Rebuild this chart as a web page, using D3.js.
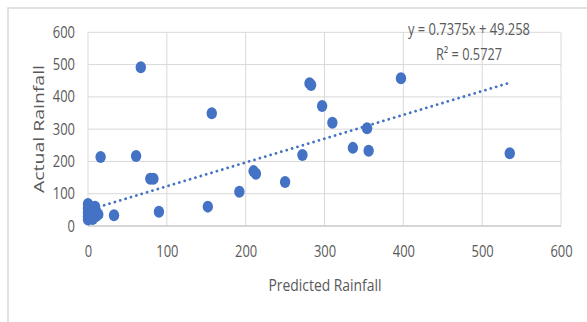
<!DOCTYPE html>
<html><head><meta charset="utf-8">
<script src="https://cdn.jsdelivr.net/npm/d3@7"></script>
<style>body{margin:0;background:#fff;}svg{display:block;}</style>
</head><body>
<script>
// Data
const predicted = [0,0,0,0,0,1,2,3,5,7,9,10,11,13,6,
  16,61,67,79,83,90,33,152,157,192,210,213,250,272,281,283,297,310,336,354,356,397,535];
const actual    = [68,55,42,30,20,48,62,25,38,52,60,30,42,36,22,
  214,217,492,146,146,44,33,60,349,106,170,162,136,220,442,437,372,320,242,303,233,458,225];
const xTicks = [0,100,200,300,400,500,600];
const yTicks = [0,100,200,300,400,500,600];
const slope = 0.7375, intercept = 49.258;
const eqLabel = "y = 0.7375x + 49.258";
const r2Label = "R² = 0.5727";
const xTitle = "Predicted Rainfall";
const yTitle = "Actual Rainfall";

const W = 587, H = 322;
const svg = d3.select("body").append("svg").attr("width", W).attr("height", H);
const txt = "#595959", grid = "#d9d9d9";
const font = "'Liberation Sans Narrow','Open Sans',sans-serif";

// outer chart border
svg.append("path").attr("d", `M8,${H+2} L8,8 L${W+2},8`).attr("fill","none")
  .attr("stroke", grid).attr("stroke-width", 1.5);

const x = d3.scaleLinear().domain([0,600]).range([88,561]);
const y = d3.scaleLinear().domain([0,600]).range([226,32.3]);

// gridlines
svg.append("g").selectAll("line").data(yTicks.filter(d=>d>0)).join("line")
  .attr("x1", x(0)).attr("x2", x(600)).attr("y1", d=>y(d)).attr("y2", d=>y(d))
  .attr("stroke", grid).attr("stroke-width", 1);
svg.append("g").selectAll("line").data(xTicks).join("line")
  .attr("y1", y(0)).attr("y2", y(600)).attr("x1", d=>x(d)).attr("x2", d=>x(d))
  .attr("stroke", grid).attr("stroke-width", 1);
// bottom axis line
svg.append("line").attr("x1", x(0)).attr("x2", x(600)).attr("y1", y(0)).attr("y2", y(0))
  .attr("stroke", "#c8c8c8").attr("stroke-width", 1.3);

// axes (labels only)
const xAxis = svg.append("g").attr("transform", `translate(0,${y(0)})`)
  .call(d3.axisBottom(x).tickValues(xTicks).tickSize(0).tickPadding(20));
const yAxis = svg.append("g").attr("transform", `translate(${x(0)},0)`)
  .call(d3.axisLeft(y).tickValues(yTicks).tickSize(0).tickPadding(13));
[xAxis, yAxis].forEach(a => {
  a.select(".domain").remove();
  a.selectAll("text").attr("fill", txt).style("font-family", font).style("font-size", "16px")
    .attr("textLength", d => String(d).length * 7.4)
    .attr("lengthAdjust", "spacingAndGlyphs");
});

// trend line
const tx0 = d3.min(predicted), tx1 = d3.max(predicted);
svg.append("line")
  .attr("x1", x(tx0)).attr("y1", y(slope*tx0+intercept))
  .attr("x2", x(tx1)).attr("y2", y(slope*tx1+intercept))
  .attr("stroke", "#4472C4").attr("stroke-width", 2.8)
  .attr("stroke-linecap", "round").attr("stroke-dasharray", "0.01 5.6");

// points
svg.append("g").selectAll("ellipse").data(predicted.map((p,i)=>[p, actual[i]])).join("ellipse")
  .attr("cx", d=>x(d[0])).attr("cy", d=>y(d[1])).attr("rx", 5.2).attr("ry", 6)
  .attr("fill", "#4472C4");

// equation labels
svg.append("text").attr("x", 469).attr("y", 35).attr("text-anchor","middle")
  .attr("fill", txt).style("font-family", font).style("font-size","16px")
  .attr("textLength", 122).attr("lengthAdjust","spacingAndGlyphs").text(eqLabel);
svg.append("text").attr("x", 469).attr("y", 60).attr("text-anchor","middle")
  .attr("fill", txt).style("font-family", font).style("font-size","16px")
  .attr("textLength", 66).attr("lengthAdjust","spacingAndGlyphs").text(r2Label);

// axis titles
svg.append("text").attr("x", 325).attr("y", 291).attr("text-anchor","middle")
  .attr("fill", txt).style("font-family", font).style("font-size","16px")
  .attr("textLength", 113).attr("lengthAdjust","spacingAndGlyphs").text(xTitle);
svg.append("text").attr("transform", "translate(44,129) rotate(-90)").attr("text-anchor","middle")
  .attr("fill", txt).style("font-family", "'Open Sans',sans-serif").style("font-size","15px")
  .attr("textLength", 128).attr("lengthAdjust","spacingAndGlyphs").text(yTitle);
</script>
</body></html>
